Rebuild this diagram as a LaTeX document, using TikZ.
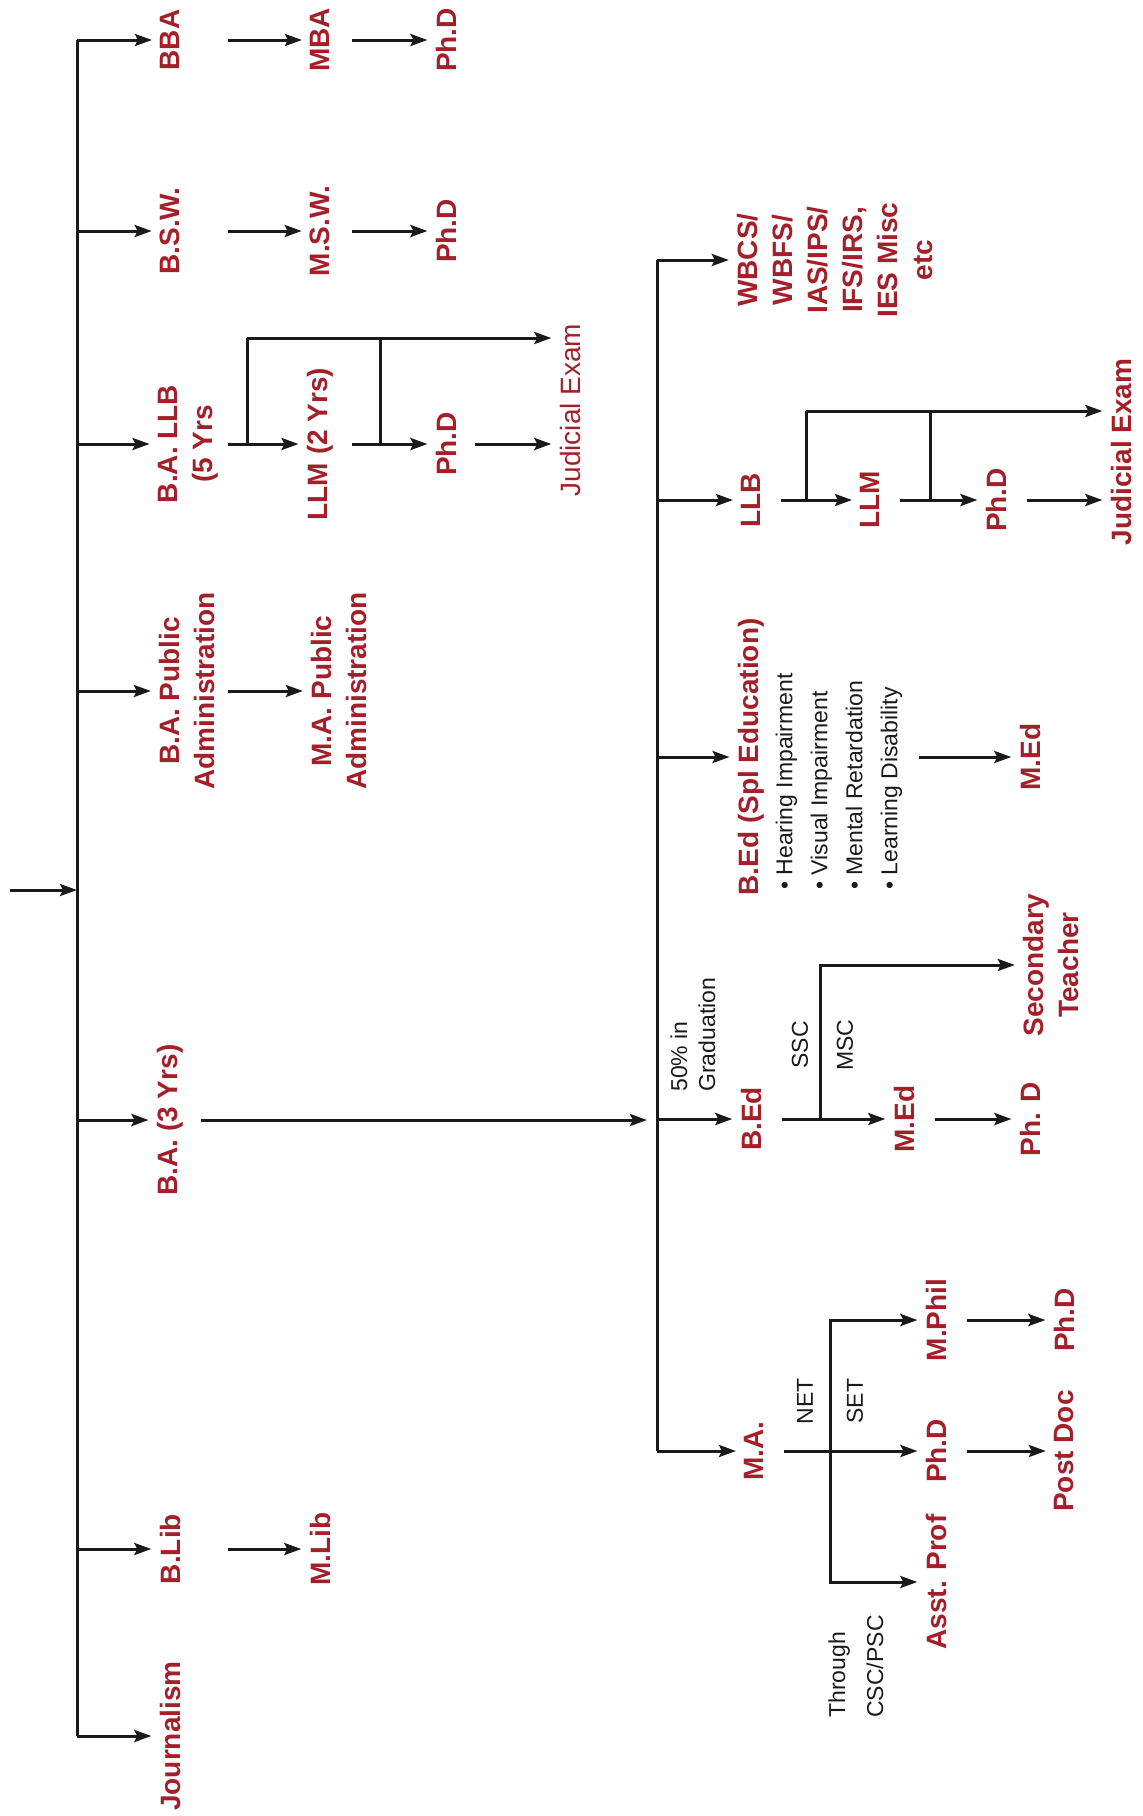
\documentclass[tikz,border=0pt]{standalone}
\usepackage{fontspec}
\setmainfont{Liberation Sans}
\definecolor{deg}{HTML}{A3202A}
\definecolor{ink}{HTML}{1A1A1A}
\usetikzlibrary{arrows.meta,calc}
\tikzset{
  node_deg/.style={rotate=90,text=deg,inner sep=4pt,align=center,
    font=\fontsize{14}{17.5}\selectfont\bfseries},
  node_reg/.style={node_deg,font=\fontsize{14}{17.5}\selectfont},
  node_note/.style={rotate=90,text=ink,inner sep=2pt,align=left,
    font=\fontsize{11.5}{14}\selectfont},
  arr/.style={-{Stealth[length=8.5pt,width=6pt,inset=1.5pt]},draw=ink,line width=1.5pt},
  wire/.style={draw=ink,line width=1.5pt},
}

\begin{document}
\begin{tikzpicture}[x=0.5pt,y=-0.5pt]
    \useasboundingbox (0,0) rectangle (1143,1816);
    \coordinate (entry) at (10,890);
    \coordinate (spine) at (77,890);
    \coordinate (spine2) at (657,0);
    \coordinate (colA) at (228,0);
    \coordinate (colB) at (352,0);
    \coordinate (colC) at (475,0);

    % first branch: the degrees after school
    \node[node_deg] (bba) at (170,40) {BBA};
    \node[node_deg] (mba) at (320,40) {MBA};
    \node[node_deg] (phd1) at (446,40) {Ph.D};
    \node[node_deg] (bsw) at (170,231) {B.S.W.};
    \node[node_deg] (msw) at (320,231) {M.S.W.};
    \node[node_deg] (phd2) at (446,231) {Ph.D};
    \node[node_deg] (ballb) at (188,444) {B.A. LLB\\(5 Yrs};
    \node[node_deg] (llm1) at (320,444) {LLM (2 Yrs)};
    \node[node_deg] (phd3) at (446,444) {Ph.D};
    \node[node_reg] (jud1) at (570,410) {Judicial Exam};
    \node[node_deg] (bapa) at (187,691) {B.A. Public\\Administration};
    \node[node_deg] (mapa) at (339,691) {M.A. Public\\Administration};
    \node[node_deg] (ba) at (170,1120) {B.A. (3 Yrs)};
    \node[node_deg] (blib) at (170,1549) {B.Lib};
    \node[node_deg] (mlib) at (320,1549) {M.Lib};
    \node[node_deg] (jour) at (170,1736) {Journalism};

    % second branch: after B.A.
    \node[node_deg] (wbcs) at (835,260) {WBCS/\\WBFS/\\IAS/IPS/\\IFS/IRS,\\IES Misc\\etc};
    \node[node_deg] (llb) at (751,500) {LLB};
    \node[node_deg] (llm2) at (870,500) {LLM};
    \node[node_deg] (phd4) at (996,500) {Ph.D};
    \node[node_deg] (jud2) at (1121,452) {Judicial Exam};
    \node[node_deg] (bedspl) at (751,757) {B.Ed (Spl Education)};
    \node[node_note,anchor=west,font=\fontsize{11.5}{17.5}\selectfont] (spllist) at (839,894)
      {• Hearing Impairment\\• Visual Impairment\\• Mental Retardation\\• Learning Disability};
    \node[node_deg] (med1) at (1030,757) {M.Ed};
    \node[node_deg] (bed) at (751,1119) {B.Ed};
    \node[node_note,anchor=west] (grad) at (693,1096) {50\% in\\Graduation};
    \node[node_deg] (med2) at (904,1119) {M.Ed};
    \node[node_deg] (phd5) at (1030,1119) {Ph. D};
    \node[node_deg] (secteach) at (1051,965) {Secondary\\Teacher};
    \node[node_note] (ssc) at (800,1045) {SSC};
    \node[node_note] (msc) at (845,1045) {MSC};
    \node[node_deg] (ma) at (754,1451) {M.A.};
    \node[node_deg] (mphil) at (936,1320) {M.Phil};
    \node[node_deg] (phd6) at (936,1451) {Ph.D};
    \node[node_deg] (asst) at (936,1582) {Asst. Prof};
    \node[node_deg] (phd7) at (1064,1320) {Ph.D};
    \node[node_deg] (postdoc) at (1064,1451) {Post Doc};
    \node[node_note] (netlbl) at (805,1401) {NET};
    \node[node_note] (setlbl) at (855,1401) {SET};
    \node[node_note,anchor=west,font=\fontsize{11.5}{19}\selectfont] (csc) at (856,1722) {Through\\CSC/PSC};

    % connectors
    \draw[wire] (spine |- bba) -- (spine |- jour);
    \draw[arr] (entry) -- (spine);
    \foreach \n in {bba,bsw,ballb,bapa,ba,blib,jour} \draw[arr] (spine |- \n) -- (\n.north);
    \foreach \a/\b in {bba/mba,bsw/msw,ballb/llm1,bapa/mapa,blib/mlib} \draw[arr] (colA |- \a) -- (\b.north);
    \foreach \a/\b in {mba/phd1,msw/phd2,llm1/phd3} \draw[arr] (colB |- \a) -- (\b.north);
    \coordinate (lawA) at (247,338); \coordinate (lawB) at (380,338);
    \draw[wire] (lawA |- ballb) -- (lawA); \draw[arr] (lawA) -- (lawA -| jud1.north);
    \draw[wire] (lawB |- llm1) -- (lawB);
    \draw[arr] (colC |- phd3) -- (jud1.north |- phd3);

    \draw[arr,shorten <=5pt,shorten >=5pt] (ba.south) -- (spine2 |- ba);
    \draw[wire] (spine2 |- wbcs) -- (spine2 |- ma);
    \foreach \n in {wbcs,llb,bedspl,bed,ma} \draw[arr] (spine2 |- \n) -- (\n.north);
    \foreach \a/\b in {llb/llm2,llm2/phd4,bed/med2,med2/phd5,ma/phd6,mphil/phd7,phd6/postdoc}
      \draw[arr,shorten <=6pt] (\a.south) -- (\b.north);
    \draw[arr,shorten <=6pt] (phd4.south) -- (jud2.north |- phd4);
    \coordinate (lawC) at (806,411); \coordinate (lawD) at (930,411);
    \draw[wire] (lawC |- llb) -- (lawC); \draw[arr] (lawC) -- (lawC -| jud2.north);
    \draw[wire] (lawD |- llm2) -- (lawD);
    \draw[arr,shorten <=6pt] (spllist.south |- bedspl) -- (med1.north);
    \coordinate (edfork) at (820,1119);
    \draw[arr] (edfork) |- (secteach.north);
    \coordinate (mafork) at (830,1451);
    \draw[arr] (mafork) |- (mphil.north); \draw[arr] (mafork) |- (asst.north);
\end{tikzpicture}
\end{document}
